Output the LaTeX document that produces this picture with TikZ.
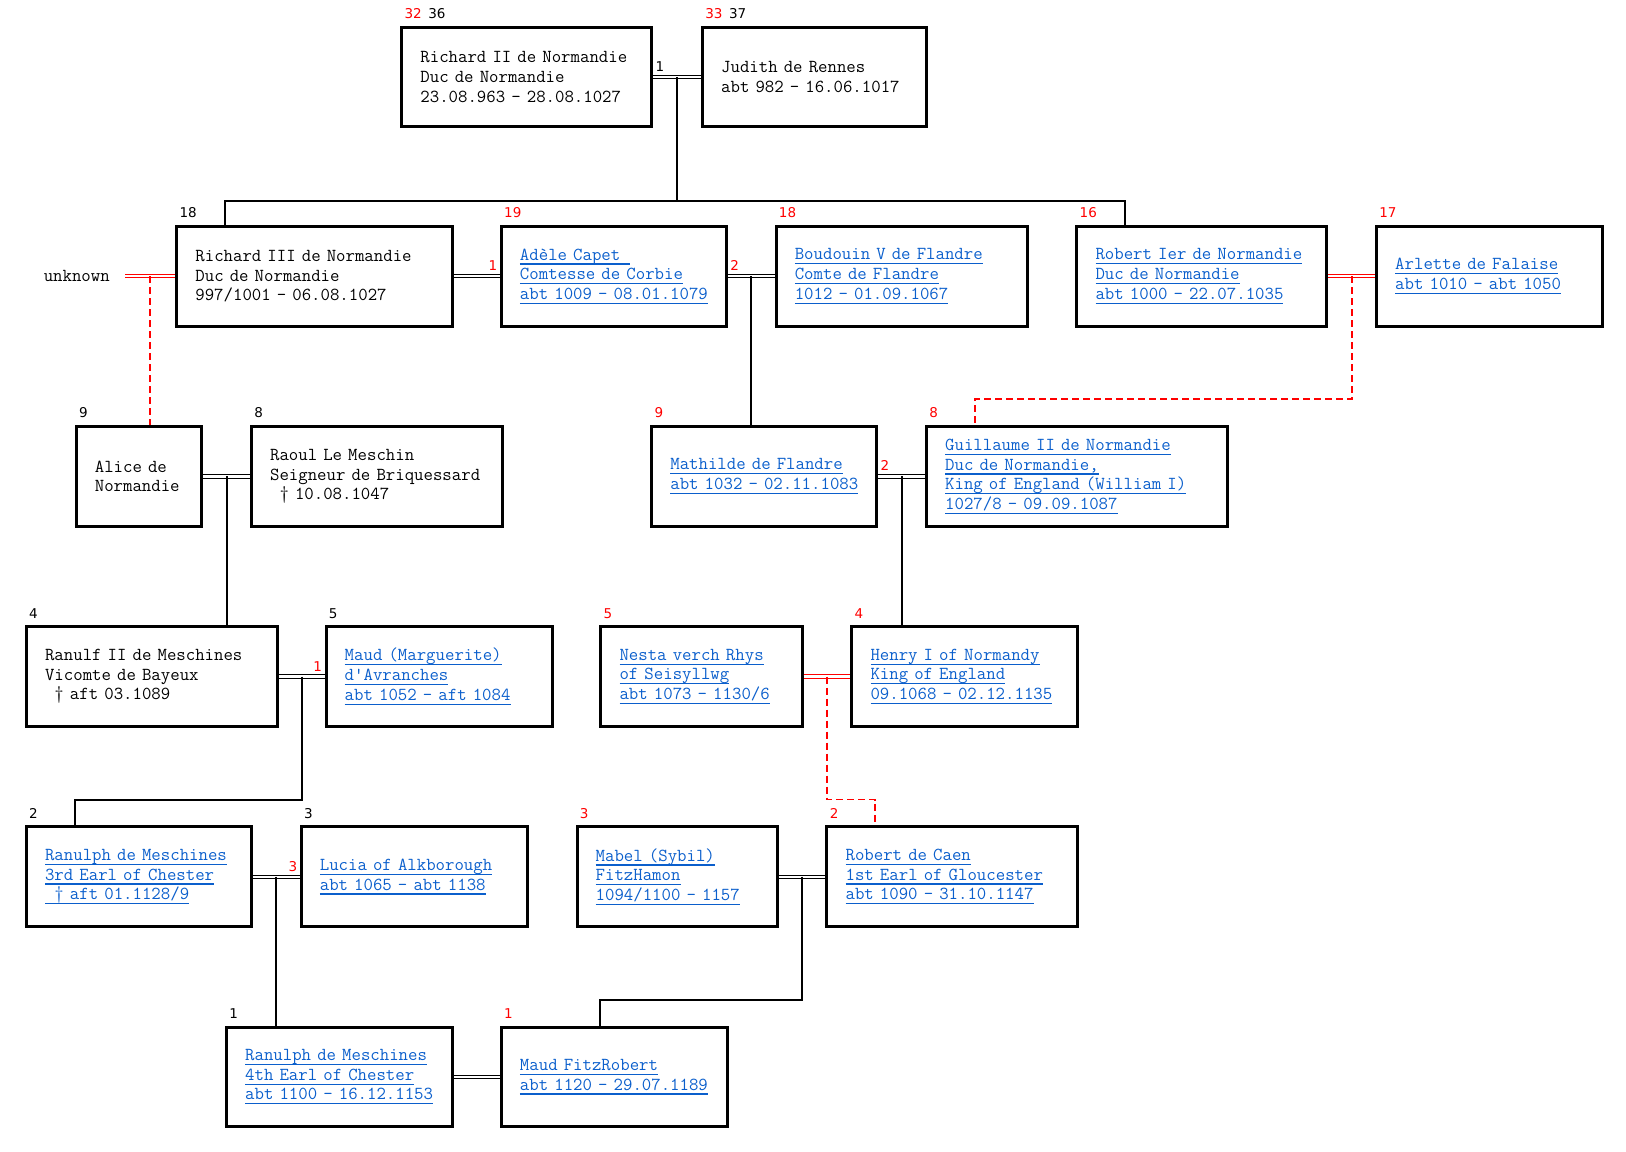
\documentclass[tikz,border=0pt]{standalone}
\usepackage{fontspec}
\usetikzlibrary{calc}
\newfontfamily\numfont{DejaVu Sans}
\definecolor{linkblue}{HTML}{0B5FCC}
\newcommand{\pfont}{\ttfamily\fontsize{18.3}{19.7}\selectfont}
\newcommand{\lnk}[1]{\leavevmode\setbox0\hbox{#1}\rlap{\rule[-4.5pt]{\wd0}{1.2pt}}\box0}
\tikzset{
  person/.style={draw, line width=3pt, anchor=north west, align=left,
    minimum width=#1*1.037pt, minimum height=96*1.037pt,
    text width=(#1-36)*1.037pt, inner xsep=18*1.037pt, inner ysep=0pt,
    font=\pfont},
  linked/.style={text=linkblue},
  num/.style={anchor=base west, inner sep=0pt, font=\numfont\fontsize{13.5}{15}\selectfont},
  mnum/.style={inner xsep=2pt, inner ysep=5pt, text=red, font=\numfont\fontsize{13.5}{15}\selectfont},
  marr/.style={double, double distance=2.2pt, line width=1pt},
  marrx/.style={marr, draw=red},
  kid/.style={line width=2pt},
  kidx/.style={kid, red, line width=1.8pt, dash pattern=on 7pt off 4pt},
}
\begin{document}
\begin{tikzpicture}[x=1.037pt, y=-1.037pt]
  \useasboundingbox (0,0) rectangle (1568,1110); % page size

  % generation 1
  \node[person=241] (r2) at (386,25) {Richard II de Normandie\\Duc de Normandie\\23.08.963 - 28.08.1027};
  \node[person=216] (jud) at (676,25) {Judith de Rennes\\abt 982 - 16.06.1017};

  % generation 2
  \node[person=266] (r3) at (169,217) {Richard III de Normandie\\Duc de Normandie\\997/1001 - 06.08.1027};
  \node[person=217, linked] (ade) at (482,217) {\lnk{Adèle Capet\hphantom{x}}\\\lnk{Comtesse de Corbie}\\\lnk{abt 1009 - 08.01.1079}};
  \node[person=242, linked] (bou) at (747,217) {\lnk{Boudouin V de Flandre}\\\lnk{Comte de Flandre}\\\lnk{1012 - 01.09.1067}};
  \node[person=241, linked] (rob) at (1037,217) {\lnk{Robert Ier de Normandie}\\\lnk{Duc de Normandie}\\\lnk{abt 1000 - 22.07.1035}};
  \node[person=218, linked] (arl) at (1326,217) {\lnk{Arlette de Falaise}\\\lnk{abt 1010 - abt 1050}};
  \node[font=\pfont, inner xsep=15*1.037pt, anchor=east] (unk) at ($(r3.west)+(-48,0)$) {unknown};

  % generation 3
  \node[person=121] (ali) at (72,410) {Alice de\\Normandie};
  \node[person=242] (rao) at (241,410) {Raoul Le Meschin\\Seigneur de Briquessard\\\hphantom{x}† 10.08.1047};
  \node[person=217, linked] (mat) at (627,410) {\lnk{Mathilde de Flandre}\\\lnk{abt 1032 - 02.11.1083}};
  \node[person=290, linked] (gui) at (892,410) {\lnk{Guillaume II de Normandie}\\\lnk{Duc de Normandie,}\\\lnk{King of England (William I)}\\\lnk{1027/8 - 09.09.1087}};

  % generation 4
  \node[person=242] (ran) at (24,603) {Ranulf II de Meschines\\Vicomte de Bayeux\\\hphantom{x}† aft 03.1089};
  \node[person=218, linked] (mma) at (313,603) {\lnk{Maud (Marguerite)}\\\lnk{d'Avranches}\\\lnk{abt 1052 - aft 1084}};
  \node[person=194, linked] (nes) at (578,603) {\lnk{Nesta verch Rhys}\\\lnk{of Seisyllwg}\\\lnk{abt 1073 - 1130/6}};
  \node[person=218, linked] (hen) at (820,603) {\lnk{Henry I of Normandy}\\\lnk{King of England}\\\lnk{09.1068 - 02.12.1135}};

  % generation 5
  \node[person=217, linked] (rm3) at (24,796) {\lnk{Ranulph de Meschines}\\\lnk{3rd Earl of Chester}\\\lnk{\hphantom{x}† aft 01.1128/9}};
  \node[person=218, linked] (luc) at (289,796) {\lnk{Lucia of Alkborough}\\\lnk{abt 1065 - abt 1138}};
  \node[person=193, linked] (mab) at (555,796) {\lnk{Mabel (Sybil)}\\\lnk{FitzHamon}\\\lnk{1094/1100 - 1157}};
  \node[person=242, linked] (rca) at (796,796) {\lnk{Robert de Caen}\\\lnk{1st Earl of Gloucester}\\\lnk{abt 1090 - 31.10.1147}};

  % generation 6
  \node[person=218, linked] (rm4) at (217,989) {\lnk{Ranulph de Meschines}\\\lnk{4th Earl of Chester}\\\lnk{abt 1100 - 16.12.1153}};
  \node[person=218, linked] (mfr) at (482,989) {\lnk{Maud FitzRobert}\\\lnk{abt 1120 - 29.07.1189}};

  % numbers
  \node[num] (r2n) at ($(r2.north west)+(4,-7)$) {\textcolor{red}{32}\, 36};
  \node[num] (judn) at ($(jud.north west)+(4,-7)$) {\textcolor{red}{33}\, 37};
  \node[num] (r3n) at ($(r3.north west)+(4,-7)$) {18};
  \node[num, red] (aden) at ($(ade.north west)+(4,-7)$) {19};
  \node[num, red] (boun) at ($(bou.north west)+(4,-7)$) {18};
  \node[num, red] (robn) at ($(rob.north west)+(4,-7)$) {16};
  \node[num, red] (arln) at ($(arl.north west)+(4,-7)$) {17};
  \node[num] (alin) at ($(ali.north west)+(4,-7)$) {9};
  \node[num] (raon) at ($(rao.north west)+(4,-7)$) {8};
  \node[num, red] (matn) at ($(mat.north west)+(4,-7)$) {9};
  \node[num, red] (guin) at ($(gui.north west)+(4,-7)$) {8};
  \node[num] (rann) at ($(ran.north west)+(4,-7)$) {4};
  \node[num] (mman) at ($(mma.north west)+(4,-7)$) {5};
  \node[num, red] (nesn) at ($(nes.north west)+(4,-7)$) {5};
  \node[num, red] (henn) at ($(hen.north west)+(4,-7)$) {4};
  \node[num] (rm3n) at ($(rm3.north west)+(4,-7)$) {2};
  \node[num] (lucn) at ($(luc.north west)+(4,-7)$) {3};
  \node[num, red] (mabn) at ($(mab.north west)+(4,-7)$) {3};
  \node[num, red] (rcan) at ($(rca.north west)+(4,-7)$) {2};
  \node[num] (rm4n) at ($(rm4.north west)+(4,-7)$) {1};
  \node[num, red] (mfrn) at ($(mfr.north west)+(4,-7)$) {1};

  % marriages
  \draw[marr] (r2) -- (jud) node[mnum, text=black, pos=0, anchor=south west] (l1) {1};
  \draw[marrx] (unk) -- (r3);
  \draw[marr] (r3) -- (ade) node[mnum, pos=1, anchor=south east] (l2) {1};
  \draw[marr] (ade) -- (bou) node[mnum, pos=0, anchor=south west] (l3) {2};
  \draw[marrx] (rob) -- (arl);
  \draw[marr] (ali) -- (rao);
  \draw[marr] (mat) -- (gui) node[mnum, pos=0, anchor=south west] (l4) {2};
  \draw[marr] (ran) -- (mma) node[mnum, pos=1, anchor=south east] (l5) {1};
  \draw[marrx] (nes) -- (hen);
  \draw[marr] (rm3) -- (luc) node[mnum, pos=1, anchor=south east] (l6) {3};
  \draw[marr] (mab) -- (rca);
  \draw[marr] (rm4) -- (mfr);

  \coordinate (m1) at ($(r2.east)!.5!(jud.west)$);
  \coordinate (m0) at ($(unk.east)!.5!(r3.west)$);
  \coordinate (m3) at ($(ade.east)!.5!(bou.west)$);
  \coordinate (m4) at ($(rob.east)!.5!(arl.west)$);
  \coordinate (m5) at ($(ali.east)!.5!(rao.west)$);
  \coordinate (m6) at ($(mat.east)!.5!(gui.west)$);
  \coordinate (m7) at ($(ran.east)!.5!(mma.west)$);
  \coordinate (m8) at ($(nes.east)!.5!(hen.west)$);
  \coordinate (m9) at ($(rm3.east)!.5!(luc.west)$);
  \coordinate (m10) at ($(mab.east)!.5!(rca.west)$);

  % children
  \draw[kid] (m1) -- ++(0,119) coordinate (b1);
  \draw[kid] ($(r3.north west)+(48,0)$) |- (b1) -| ($(rob.north west)+(48,0)$);
  \draw[kidx] (m0) -- (m0 |- ali.north);
  \draw[kid] (m3) -- (m3 |- mat.north);
  \draw[kidx] (m4) |- ($(gui.north west)+(48,-25)$) -- ($(gui.north west)+(48,0)$);
  \draw[kid] (m5) -- (m5 |- ran.north);
  \draw[kid] (m6) -- (m6 |- hen.north);
  \draw[kid] (m7) |- ($(rm3.north west)+(48,-25)$) -- ($(rm3.north west)+(48,0)$);
  \draw[kidx] (m8) |- ($(rca.north west)+(48,-25)$) -- ($(rca.north west)+(48,0)$);
  \draw[kid] (m9) -- (m9 |- rm4.north);
  \draw[kid] (m10) |- ($(mfr.north west)+(97,-25)$) -- ($(mfr.north west)+(97,0)$);
\end{tikzpicture}
\end{document}
